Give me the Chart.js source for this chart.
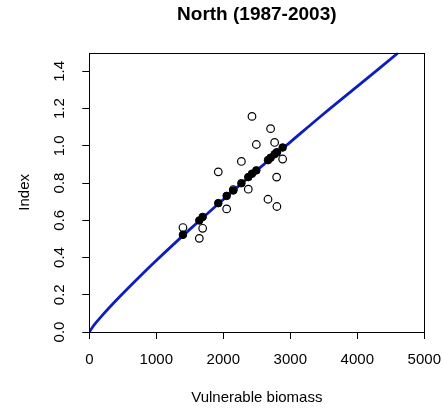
<!DOCTYPE html>
<html>
<head>
<meta charset="utf-8">
<script src="https://cdn.jsdelivr.net/npm/chart.js@4.4.1/dist/chart.umd.min.js"></script>
<style>
    html, body { margin: 0; padding: 0; background: #fff; }
    #wrap { width: 443px; height: 408px; }
</style>
</head>
<body>
<div id="wrap"><canvas id="chart" width="443" height="408"></canvas></div>
<script>
// Vulnerable biomass for each year, observed index (open) and fitted index (filled)
const biomass = [1398, 1642, 1692, 1925, 2050, 2149, 2270, 2373, 2428, 2493, 2667, 2706, 2766, 2796, 2800, 2886];
const observed = [0.561, 0.503, 0.557, 0.860, 0.661, 0.765, 0.916, 0.767, 1.158, 1.007, 0.713, 1.092, 1.018, 0.832, 0.674, 0.929];
const fitted = [0.522, 0.599, 0.618, 0.692, 0.731, 0.760, 0.799, 0.832, 0.850, 0.868, 0.923, 0.936, 0.955, 0.964, 0.965, 0.991];

// fitted curve
const curveX = [0, 50, 100, 200, 300, 500, 750, 1000, 1500, 2000, 2500, 3000, 3500, 4000, 4612];
const curveY = [0, 0.027, 0.050, 0.092, 0.132, 0.207, 0.297, 0.384, 0.551, 0.712, 0.868, 1.020, 1.172, 1.319, 1.5];

const xTicks = [0, 1000, 2000, 3000, 4000, 5000];
const yTicks = [0, 0.2, 0.4, 0.6, 0.8, 1.0, 1.2, 1.4];

const FONT = "'Liberation Sans', Arial, sans-serif";
const toXY = (xs, ys) => xs.map((x, i) => ({ x, y: ys[i] }));

// R style box round the plotting region
const boxPlugin = {
    id: "box",
    afterDatasetsDraw(chart) {
        const { ctx, chartArea: a } = chart;
        ctx.save();
        ctx.strokeStyle = "#000";
        ctx.lineWidth = 1;
        ctx.strokeRect(Math.round(a.left) + 0.5, Math.round(a.top) + 0.5,
                       Math.round(a.right - a.left), Math.round(a.bottom - a.top));
        ctx.restore();
    }
};

new Chart(document.getElementById("chart").getContext("2d"), {
    type: "scatter",
    data: {
        datasets: [{
            label: "Fitted",
            data: toXY(biomass, fitted),
            pointRadius: 3.8,
            pointBackgroundColor: "#000",
            pointBorderColor: "#000",
            pointBorderWidth: 1
        },
        {
            label: "Curve",
            type: "line",
            data: toXY(curveX, curveY),
            borderColor: "rgb(14, 30, 188)",
            borderWidth: 2.8,
            pointRadius: 0,
            fill: false,
            tension: 0.3
        },
        {
            label: "Observed",
            data: toXY(biomass, observed),
            pointRadius: 3.8,
            pointBackgroundColor: "rgba(0,0,0,0)",
            pointBorderColor: "#000",
            pointBorderWidth: 1.2
        }]
    },
    options: {
        responsive: false,
        animation: false,
        events: [],
        layout: { padding: { left: 16, right: 18.7, top: 0, bottom: 1 } },
        plugins: {
            legend: { display: false },
            tooltip: { enabled: false },
            title: {
                display: true,
                fullSize: false,
                text: "North (1987-2003)",
                color: "#000",
                font: { family: FONT, size: 19, weight: "bold", lineHeight: 1.2 },
                padding: { top: 3.6, bottom: 26.3 }
            }
        },
        scales: {
            x: {
                type: "linear",
                min: 0,
                max: 5000,
                afterBuildTicks: s => { s.ticks = xTicks.map(v => ({ value: v })); },
                afterFit: s => { s.height = 75; s.paddingLeft = 0; s.paddingRight = 0; },
                border: { display: false },
                grid: { drawOnChartArea: false, drawTicks: true, tickLength: 7, color: "#000" },
                ticks: {
                    color: "#000",
                    padding: 12,
                    maxRotation: 0,
                    font: { family: FONT, size: 15 },
                    callback: v => String(v)
                },
                title: {
                    display: true,
                    text: "Vulnerable biomass",
                    color: "#000",
                    padding: 0,
                    font: { family: FONT, size: 15, lineHeight: 1.2 }
                }
            },
            y: {
                type: "linear",
                min: 0,
                max: 1.5,
                afterBuildTicks: s => { s.ticks = yTicks.map(v => ({ value: v })); },
                afterFit: s => { s.width = 73.3; s.paddingTop = 0; s.paddingBottom = 0; },
                border: { display: false },
                grid: { drawOnChartArea: false, drawTicks: true, tickLength: 7, color: "#000" },
                ticks: {
                    color: "#000",
                    padding: 12,
                    minRotation: 90,
                    maxRotation: 90,
                    crossAlign: "center",
                    font: { family: FONT, size: 15 },
                    callback: v => v.toFixed(1)
                },
                title: {
                    display: true,
                    text: "Index",
                    color: "#000",
                    padding: 0,
                    font: { family: FONT, size: 15, lineHeight: 1.2 }
                }
            }
        }
    },
    plugins: [boxPlugin]
});
</script>
</body>
</html>
